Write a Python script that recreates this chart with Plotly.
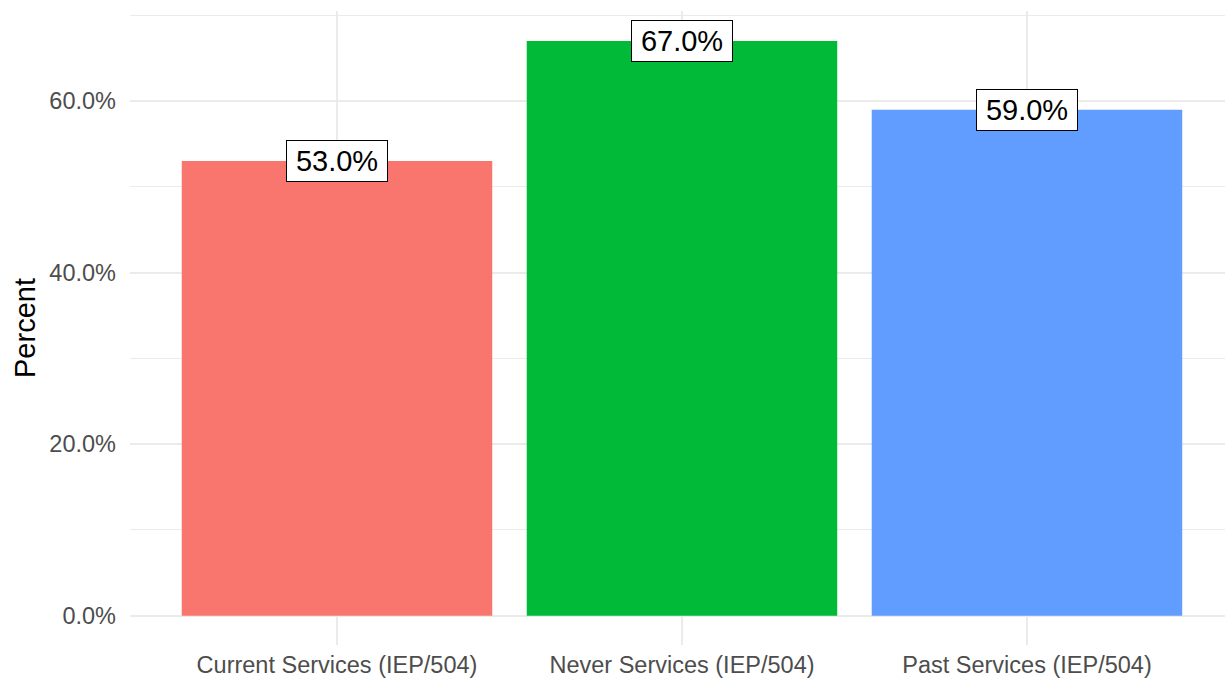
import plotly.graph_objects as go

# Share of students by IEP/504 service status
categories = ["Current Services (IEP/504)", "Never Services (IEP/504)", "Past Services (IEP/504)"]
percent = [53.0, 67.0, 59.0]
bar_colors = ["#F8766D", "#00BA38", "#619CFF"]
y_ticks = [0, 20, 40, 60]

FONT = "Liberation Sans, Arial, sans-serif"

fig = go.Figure(
    go.Bar(
        x=categories,
        y=percent,
        marker=dict(color=bar_colors, line=dict(width=0)),
        width=0.9,
        hoverinfo="skip",
    )
)

# Value labels sitting on top of each bar
for cat, val in zip(categories, percent):
    fig.add_annotation(
        x=cat, y=val, xref="x", yref="y",
        text=f"{val:.1f}%",
        showarrow=False,
        font=dict(family=FONT, size=29, color="black"),
        bgcolor="white",
        bordercolor="black",
        borderwidth=1,
        borderpad=1,
        width=98,
        height=38,
        xanchor="center", yanchor="middle",
    )

fig.update_layout(
    width=1225, height=679,
    margin=dict(l=130, r=0, t=11, b=34),
    paper_bgcolor="white",
    plot_bgcolor="white",
    showlegend=False,
    font=dict(family=FONT),
    bargap=0.1,
)

fig.update_xaxes(
    range=[-0.6, 2.574],
    showgrid=True, gridcolor="#EBEBEB", gridwidth=2,
    showline=False, zeroline=False,
    ticks="", ticklabelstandoff=3,
    tickfont=dict(family=FONT, size=23.5, color="#4D4D4D"),
    automargin=False,
)

fig.update_yaxes(
    range=[-3.42, 70.5],
    tickvals=y_ticks,
    ticktext=[f"{v:.1f}%" for v in y_ticks],
    showgrid=True, gridcolor="#EBEBEB", gridwidth=2,
    minor=dict(dtick=10, tick0=0, showgrid=True, gridcolor="#EBEBEB", gridwidth=1),
    showline=False, zeroline=False,
    ticks="", ticklabelstandoff=13,
    tickfont=dict(family=FONT, size=23.5, color="#4D4D4D"),
    title=dict(text="Percent", font=dict(family=FONT, size=29, color="black"), standoff=5),
    automargin=False,
)

fig.write_html("out.html")
